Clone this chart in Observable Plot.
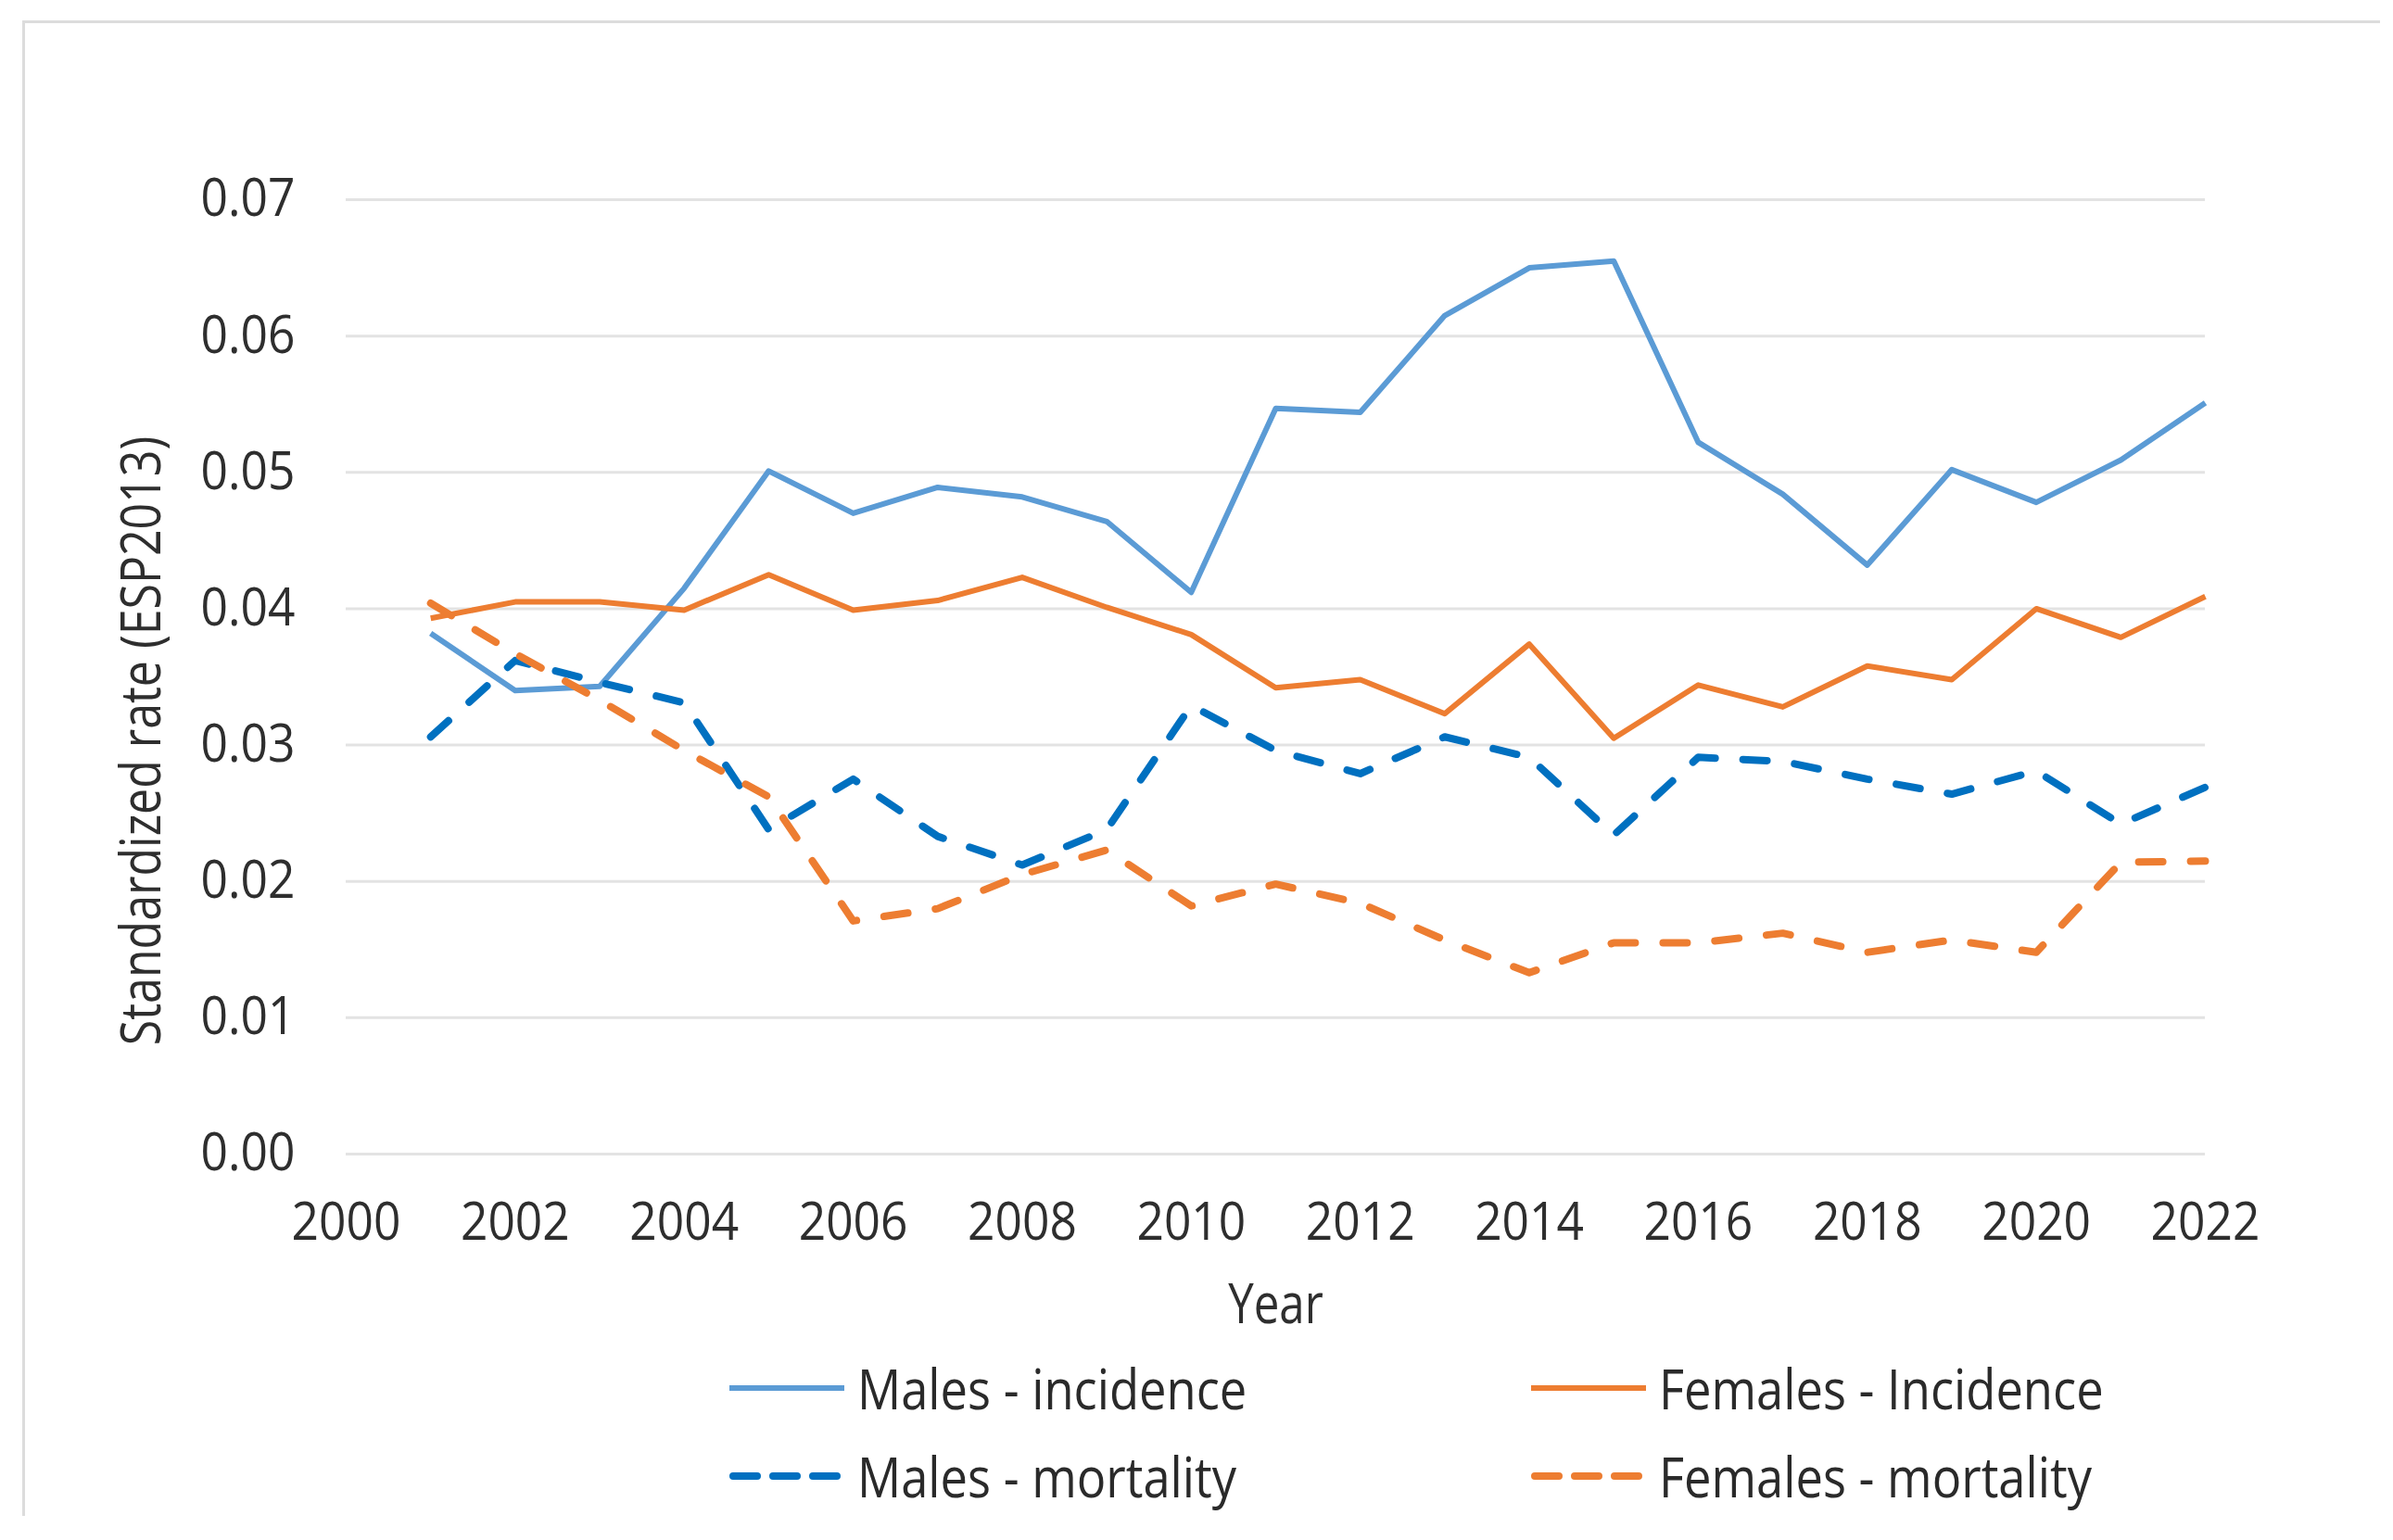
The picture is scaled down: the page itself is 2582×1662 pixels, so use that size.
<!DOCTYPE html>
<html><head><meta charset="utf-8">
<script src="https://cdn.jsdelivr.net/npm/d3@7"></script>
<script src="https://cdn.jsdelivr.net/npm/@observablehq/plot@0.6"></script>
<style>
html,body{margin:0;padding:0;background:#fff;}
#wrap{position:relative;width:2582px;height:1662px;overflow:hidden;background:#fff;}
#frame{position:absolute;left:24px;top:22px;width:2541px;height:1611px;border-top:3px solid #dcdcdc;border-left:3px solid #dcdcdc;pointer-events:none;}
#legend{display:grid;grid-template-columns:865px auto;padding-left:787px;}
.item{display:flex;align-items:center;height:95px;}
.item span{margin-left:14px;font-family:"Open Sans",sans-serif;font-size:61px;color:#2a2a2a;white-space:nowrap;display:inline-block;transform:scaleX(0.86);transform-origin:left center;}
</style></head><body>
<div id="wrap"><div id="chart"></div><div id="legend"></div><div id="frame"></div></div>
<script>
const years = [2001,2002,2003,2004,2005,2006,2007,2008,2009,2010,2011,2012,2013,2014,2015,2016,2017,2018,2019,2020,2021,2022];
const malesIncidence   = [0.0382,0.0340,0.0343,0.0415,0.0501,0.0470,0.0489,0.0482,0.0464,0.0412,0.0547,0.0544,0.0615,0.0650,0.0655,0.0522,0.0484,0.0432,0.0502,0.0478,0.0509,0.0551];
const femalesIncidence = [0.0393,0.0405,0.0405,0.0399,0.0425,0.0399,0.0406,0.0423,0.0401,0.0381,0.0342,0.0348,0.0323,0.0374,0.0305,0.0344,0.0328,0.0358,0.0348,0.0400,0.0379,0.0409];
const malesMortality   = [0.0306,0.0362,0.0346,0.0331,0.0238,0.0275,0.0233,0.0212,0.0238,0.0329,0.0296,0.0279,0.0306,0.0291,0.0234,0.0291,0.0288,0.0275,0.0264,0.0281,0.0242,0.0269];
const femalesMortality = [0.0404,0.0367,0.0333,0.0296,0.0262,0.0171,0.0180,0.0205,0.0223,0.0182,0.0198,0.0184,0.0157,0.0133,0.0155,0.0155,0.0162,0.0148,0.0157,0.0148,0.0214,0.0215];
const seriesNames = ["Males - incidence","Females - Incidence","Males - mortality","Females - mortality"];
const yTicks = [0,0.01,0.02,0.03,0.04,0.05,0.06,0.07];
const xTicks = [2000,2002,2004,2006,2008,2010,2012,2014,2016,2018,2020,2022];
const xTitle = "Year";
const yTitle = "Standardized rate (ESP2013)";

const seriesValues = [malesIncidence, femalesIncidence, malesMortality, femalesMortality];
const styles = [
  {stroke:"#5B9BD5", strokeWidth:6, dash:null},
  {stroke:"#ED7D31", strokeWidth:6, dash:null},
  {stroke:"#0070C0", strokeWidth:8, dash:"26,30"},
  {stroke:"#ED7D31", strokeWidth:8, dash:"26,30"}
];
const table = seriesNames.map((name,i) => years.map((yr,j) => ({series:name, year:yr, value:seriesValues[i][j]})));

const lineMarks = table.map((rows,i) => Plot.line(rows, {
  x:"year", y:"value", stroke:styles[i].stroke, strokeWidth:styles[i].strokeWidth,
  strokeDasharray: styles[i].dash || undefined, strokeLinecap: styles[i].dash ? "round" : "butt",
  strokeLinejoin:"round"
}));

const chart = Plot.plot({
  width:2582, height:1450,
  marginLeft:373, marginRight:203, marginTop:215, marginBottom:205,
  style:{background:"#fff", fontFamily:"'Open Sans', sans-serif", overflow:"visible"},
  x:{domain:[2000,2022], ticks:xTicks, tickFormat:d=>String(d), label:null},
  y:{domain:[0,0.07], ticks:yTicks, tickFormat:d3.format(".2f"), label:null},
  marks:[
    Plot.gridY(yTicks, {stroke:"#e3e3e3", strokeOpacity:1, strokeWidth:3}),
    Plot.axisY({ticks:yTicks, tickFormat:d3.format(".2f"), tickSize:0, tickPadding:55, fontSize:56, fill:"#2e2e2e", label:null}),
    Plot.axisX({ticks:xTicks, tickFormat:d=>String(d), tickSize:0, tickPadding:53, fontSize:56, fill:"#2e2e2e", label:null}),
    ...lineMarks,
    Plot.text([xTitle], {frameAnchor:"bottom", dy:163, lineAnchor:"middle", textAnchor:"middle", fontSize:60, fill:"#2e2e2e"}),
    Plot.text([yTitle], {frameAnchor:"left", dx:-220, dy:69, rotate:-90, lineAnchor:"middle", textAnchor:"middle", fontSize:61, fill:"#2e2e2e"})
  ]
});
document.getElementById("chart").appendChild(chart);

// condense glyphs horizontally to match the reference's narrow type
function condense(sel, k){
  chart.querySelectorAll(sel).forEach(t => {
    const L = t.getComputedTextLength();
    if (L > 0) { t.setAttribute("textLength", (L*k).toFixed(1)); t.setAttribute("lengthAdjust","spacingAndGlyphs"); }
  });
}
condense('g[aria-label="y-axis tick label"] text', 0.92);
condense('g[aria-label="x-axis tick label"] text', 0.92);
condense('g[aria-label="text"] text', 0.82);

const legend = document.getElementById("legend");
[0,1,2,3].forEach(i => {
  const item = document.createElement("div");
  item.className = "item";
  const s = styles[i];
  item.innerHTML = `<svg width="124" height="20" style="overflow:visible"><line x1="${s.dash?4:0}" y1="10" x2="${s.dash?120:124}" y2="10" stroke="${s.stroke}" stroke-width="${s.strokeWidth}" ${s.dash?'stroke-dasharray="26,17" stroke-linecap="round"':''}/></svg><span>${seriesNames[i]}</span>`;
  legend.appendChild(item);
});
</script>
</body></html>
